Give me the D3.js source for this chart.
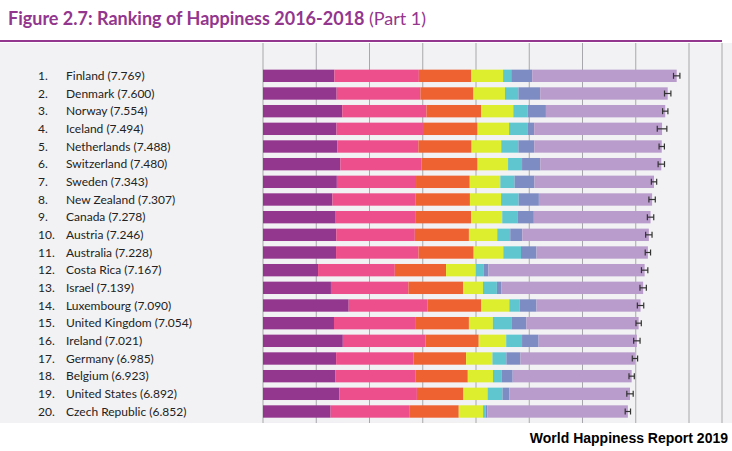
<!DOCTYPE html><html><head><meta charset="utf-8"><script src="https://cdn.jsdelivr.net/npm/d3@7"></script>
<style>body{margin:0;background:#fff}svg{display:block}</style></head><body><svg id="c" width="732" height="451"></svg><script>
const countries=["Finland","Denmark","Norway","Iceland","Netherlands","Switzerland","Sweden","New Zealand","Canada","Austria","Australia","Costa Rica","Israel","Luxembourg","United Kingdom","Ireland","Germany","Belgium","United States","Czech Republic","United Arab Emirates"];
const scores=[7.769,7.600,7.554,7.494,7.488,7.480,7.343,7.307,7.278,7.246,7.228,7.167,7.139,7.090,7.054,7.021,6.985,6.923,6.892,6.852,6.825];
const gdp=[1.340,1.383,1.488,1.380,1.396,1.452,1.387,1.303,1.365,1.376,1.372,1.034,1.276,1.609,1.333,1.499,1.373,1.356,1.433,1.269,1.503];
const social=[1.587,1.573,1.582,1.624,1.522,1.526,1.487,1.557,1.505,1.475,1.548,1.441,1.455,1.479,1.538,1.553,1.454,1.504,1.457,1.487,1.310];
const health=[0.986,0.996,1.028,1.026,0.999,1.052,1.009,1.026,1.039,1.016,1.036,0.963,1.029,1.012,0.996,0.999,0.987,0.986,0.874,0.920,0.825];
const freedom=[0.596,0.592,0.603,0.591,0.557,0.572,0.574,0.585,0.584,0.532,0.557,0.558,0.371,0.526,0.450,0.516,0.495,0.473,0.454,0.457,0.598];
const generosity=[0.153,0.252,0.271,0.354,0.322,0.263,0.267,0.330,0.285,0.244,0.332,0.144,0.261,0.194,0.348,0.298,0.261,0.160,0.280,0.046,0.262];
const corruption=[0.393,0.410,0.341,0.118,0.298,0.343,0.373,0.380,0.308,0.226,0.290,0.093,0.082,0.316,0.278,0.310,0.265,0.210,0.128,0.036,0.182];
const ciHalf=[0.06,0.06,0.05,0.09,0.05,0.06,0.05,0.06,0.06,0.06,0.05,0.06,0.06,0.06,0.05,0.06,0.05,0.05,0.06,0.05,0.06];
const xTicks=[0,1,2,3,4,5,6,7,8];
const colors=["#93368e","#ec4f8b","#ee6131","#dcee2e","#5fc6cf","#7e8cc4","#b99ccb"];
const svg=d3.select("#c");
svg.append("rect").attr("x",0).attr("y",43).attr("width",732).attr("height",380).attr("fill","#f2f2f4");
svg.append("line").attr("x1",0).attr("x2",722).attr("y1",41).attr("y2",41).attr("stroke","#93368e").attr("stroke-width",2);
const t=svg.append("text").attr("x",8).attr("y",25).attr("font-family","Lato, sans-serif").attr("font-size",18).attr("fill","#93368e");
t.append("tspan").attr("font-weight","bold").text("Figure 2.7: Ranking of Happiness 2016-2018 ");
t.append("tspan").text("(Part 1)");
const x=d3.scaleLinear().domain([0,8]).range([263,689]);
const y=d3.scaleBand().domain(countries).range([67,438]).paddingInner(0.3).paddingOuter(0.15);
const clip=svg.append("clipPath").attr("id","cp").append("rect").attr("x",0).attr("y",43).attr("width",732).attr("height",380);
const g=svg.append("g").attr("clip-path","url(#cp)");
g.selectAll(".grid").data(xTicks).join("line").attr("x1",d=>x(d)).attr("x2",d=>x(d)).attr("y1",43).attr("y2",423).attr("stroke","#a8a8ac").attr("stroke-width",1);
g.append("line").attr("x1",722).attr("x2",722).attr("y1",43).attr("y2",423).attr("stroke","#a8a8ac");
const rows=countries.map((c,i)=>{const dys=scores[i]-gdp[i]-social[i]-health[i]-freedom[i]-generosity[i]-corruption[i];return [gdp[i],social[i],health[i],freedom[i],generosity[i],corruption[i],dys];});
countries.forEach((c,i)=>{let acc=0;rows[i].forEach((v,k)=>{g.append("rect").attr("x",x(acc)).attr("y",y(c)).attr("width",x(acc+v)-x(acc)).attr("height",y.bandwidth()).attr("fill",colors[k]);acc+=v;});
const cy=y(c)+y.bandwidth()/2,x0=x(scores[i]-ciHalf[i]),x1=x(scores[i]+ciHalf[i]);
g.append("line").attr("x1",x0).attr("x2",x1).attr("y1",cy).attr("y2",cy).attr("stroke","#333").attr("stroke-width",1.2);
[x0,x1].forEach(xx=>g.append("line").attr("x1",xx).attr("x2",xx).attr("y1",cy-3).attr("y2",cy+3).attr("stroke","#333").attr("stroke-width",1.2));
g.append("text").attr("x",38).attr("y",cy+4).attr("font-family","Lato, sans-serif").attr("font-size",12).attr("fill","#222").text((i+1)+".");
g.append("text").attr("x",66).attr("y",cy+4).attr("font-family","Lato, sans-serif").attr("font-size",12).attr("fill","#222").text(c+" ("+scores[i].toFixed(3)+")");});
svg.append("text").attr("x",728).attr("y",443).attr("text-anchor","end").attr("font-family","Liberation Sans Narrow, Arial Narrow, sans-serif").attr("font-weight","bold").attr("font-size",14).attr("fill","#000").text("World Happiness Report 2019");
</script></body></html>
